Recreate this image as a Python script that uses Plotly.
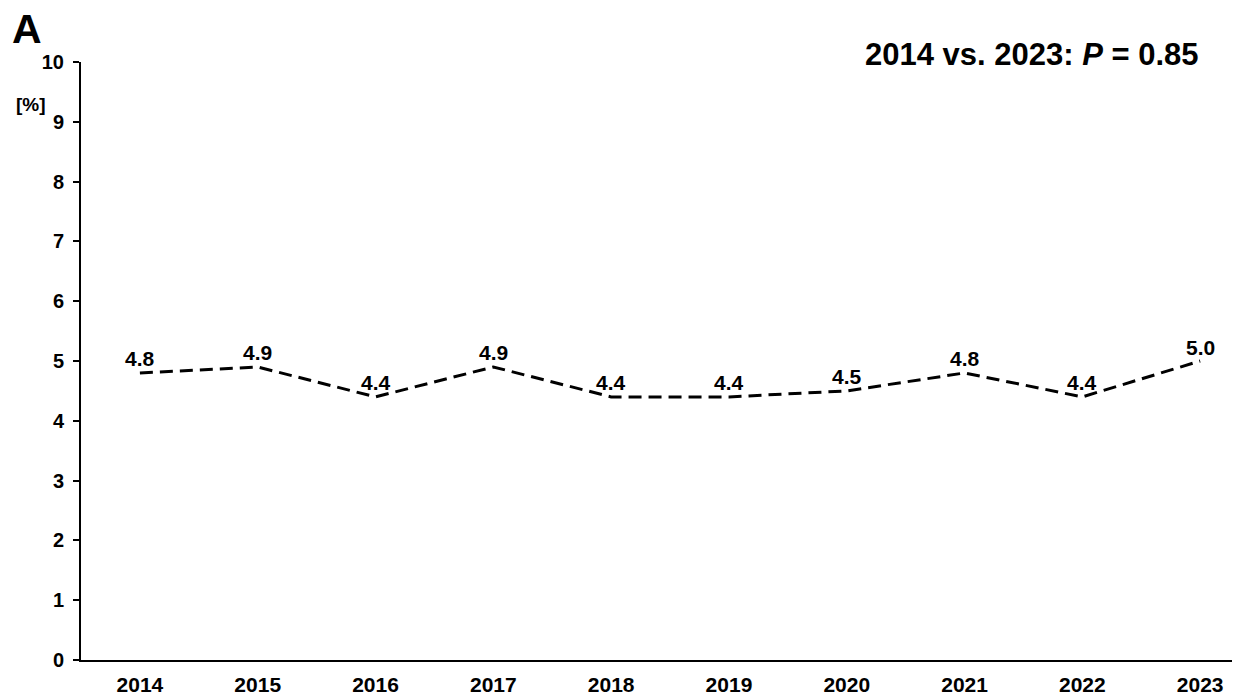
import plotly.graph_objects as go

years = ["2014", "2015", "2016", "2017", "2018", "2019", "2020", "2021", "2022", "2023"]
values = [4.8, 4.9, 4.4, 4.9, 4.4, 4.4, 4.5, 4.8, 4.4, 5.0]
value_labels = ["4.8", "4.9", "4.4", "4.9", "4.4", "4.4", "4.5", "4.8", "4.4", "5.0"]
y_ticks = [0, 1, 2, 3, 4, 5, 6, 7, 8, 9, 10]

FONT = "Liberation Sans, Arial, sans-serif"

# page has an 8px body margin, so the figure is drawn 8px smaller and
# all target page-pixel positions are shifted by OFF
OFF = 8
W, H = 1240 - OFF, 698 - OFF
l, r, t, b = 81 - OFF, 0, 62 - OFF, 38
pw, ph = W - l - r, H - t - b


def px2paper(px, py):
    return (px - OFF - l) / pw, 1 - (py - OFF - t) / ph


fig = go.Figure()
fig.add_trace(go.Scatter(
    x=years, y=values, mode="lines",
    line=dict(color="black", width=3, dash="13px,7px"),
    showlegend=False, cliponaxis=False,
))

ax, ay = px2paper(27, 29)
px_, py_ = px2paper(31, 105)
tx, ty = px2paper(1201, 55)

annotations = [
    dict(text="<b>A</b>", x=ax, y=ay, xref="paper", yref="paper",
         showarrow=False, font=dict(family=FONT, size=41, color="black"),
         xanchor="center", yanchor="middle"),
    dict(text="<b>[%]</b>", x=px_, y=py_, xref="paper", yref="paper",
         showarrow=False, font=dict(family=FONT, size=19, color="black"),
         xanchor="center", yanchor="middle"),
    dict(text="<b>2014 vs. 2023: <i>P</i> = 0.85</b>", x=tx, y=ty,
         xref="paper", yref="paper", showarrow=False,
         font=dict(family=FONT, size=31, color="black"),
         xanchor="right", yanchor="middle"),
]
# value labels: placed at each category index on the category axis
for i, (v, lab) in enumerate(zip(values, value_labels)):
    annotations.append(dict(
        text="<b>" + lab + "</b>", x=i, y=v, xref="x", yref="y",
        showarrow=False, yshift=14, xanchor="center", yanchor="middle",
        font=dict(family=FONT, size=21, color="black"),
    ))

fig.update_layout(
    width=W, height=H,
    margin=dict(l=l, r=r, t=t, b=b, autoexpand=False),
    paper_bgcolor="white", plot_bgcolor="white",
    font=dict(family=FONT, color="black"),
    xaxis=dict(
        type="category", categoryarray=years, categoryorder="array",
        range=[-0.5, 9.338], automargin=False,
        showline=True, linecolor="black", linewidth=2,
        ticks="", showgrid=False, zeroline=False,
        tickfont=dict(family=FONT, size=21, color="black", weight="bold"),
        ticklabelstandoff=5,
    ),
    yaxis=dict(
        range=[0, 10], tickvals=y_ticks, automargin=False,
        showline=True, linecolor="black", linewidth=2,
        ticks="outside", ticklen=6, tickwidth=2, tickcolor="black",
        showgrid=False, zeroline=False,
        tickfont=dict(family=FONT, size=20, color="black", weight="bold"),
        ticklabelstandoff=5,
    ),
    annotations=annotations,
)

fig.write_html("out.html")
